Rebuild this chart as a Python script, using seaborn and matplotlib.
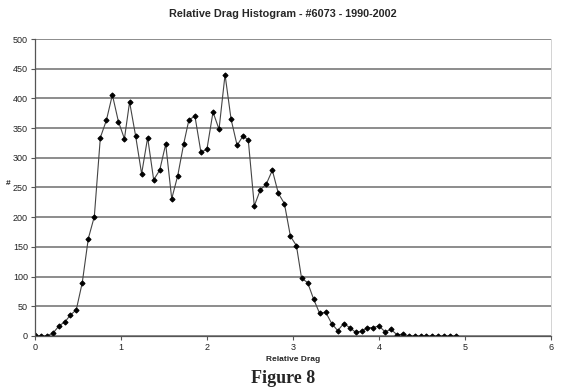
import numpy as np
import pandas as pd
import matplotlib
matplotlib.use("Agg")
import matplotlib.pyplot as plt
import seaborn as sns

# relative drag bin positions and the number of samples in each bin
relative_drag = [0.00, 0.07, 0.14, 0.21, 0.28, 0.35, 0.41, 0.48, 0.55, 0.62,
                 0.69, 0.76, 0.83, 0.90, 0.97, 1.04, 1.10, 1.17, 1.24, 1.31,
                 1.38, 1.45, 1.52, 1.59, 1.66, 1.73, 1.79, 1.86, 1.93, 2.00,
                 2.07, 2.14, 2.21, 2.28, 2.35, 2.42, 2.48, 2.55, 2.62, 2.69,
                 2.76, 2.83, 2.90, 2.97, 3.04, 3.10, 3.17, 3.24, 3.31, 3.38,
                 3.45, 3.52, 3.59, 3.66, 3.73, 3.80, 3.86, 3.93, 4.00, 4.07,
                 4.14, 4.21, 4.28, 4.35, 4.42, 4.49, 4.55, 4.62, 4.69, 4.76,
                 4.83, 4.90]
counts = [1, 0, 0, 5, 17, 24, 35, 44, 90, 164,
          201, 334, 363, 406, 361, 332, 394, 337, 273, 334,
          263, 279, 323, 231, 270, 324, 364, 370, 309, 315,
          377, 348, 440, 365, 321, 337, 330, 219, 246, 256,
          279, 240, 223, 168, 152, 97, 90, 62, 38, 40,
          21, 9, 21, 14, 6, 8, 14, 14, 17, 7,
          11, 2, 3, 0, 0, 0, 0, 0, 0, 0,
          0, 0]

x_ticks = [0, 1, 2, 3, 4, 5, 6]
y_ticks = [0, 50, 100, 150, 200, 250, 300, 350, 400, 450, 500]

df = pd.DataFrame({"Relative Drag": relative_drag, "#": counts})

sns.set_style("white")
plt.rcParams['font.family'] = ['Liberation Sans', 'DejaVu Sans']

fig = plt.figure(figsize=(5.66, 3.92), dpi=100)
ax = fig.add_axes([0.0618, 0.1429, 0.9117, 0.7576])

ax.set_yticks(y_ticks)
ax.yaxis.grid(True, color='#6e6e6e', linewidth=1.1)
ax.set_axisbelow(True)

sns.lineplot(data=df, x="Relative Drag", y="#", ax=ax, color='#444444',
             linewidth=0.8, marker='D', markersize=2.6,
             markerfacecolor='black', markeredgecolor='black')

ax.set_xlim(0, 6)
ax.set_ylim(0, 500)
ax.set_xticks(x_ticks)
ax.set_yticks(y_ticks)
ax.tick_params(axis='both', labelsize=6.5, length=3, width=0.8, color='#555555',
               labelcolor='#222222', direction='out', pad=2, bottom=True, left=True)

for side in ['left', 'bottom']:
    ax.spines[side].set_color('#555555')
    ax.spines[side].set_linewidth(0.9)
ax.spines['top'].set_visible(False)
ax.spines['right'].set_color('#cccccc')
ax.spines['right'].set_linewidth(0.6)

ax.set_xlabel("Relative Drag", fontsize=6, fontweight='bold', labelpad=3)
ax.set_ylabel("#", fontsize=6, fontweight='bold', rotation=0, labelpad=10)
ax.yaxis.set_label_coords(-0.052, 0.5)

fig.text(0.5, 0.977, "Relative Drag Histogram - #6073 - 1990-2002",
         ha='center', va='top', fontsize=7.8, fontweight='bold')
fig.text(0.5, 0.012, "Figure 8", ha='center', va='bottom', fontsize=13,
         fontweight='bold', family=['Liberation Serif', 'DejaVu Serif'])

plt.savefig("out.png", dpi=100)
